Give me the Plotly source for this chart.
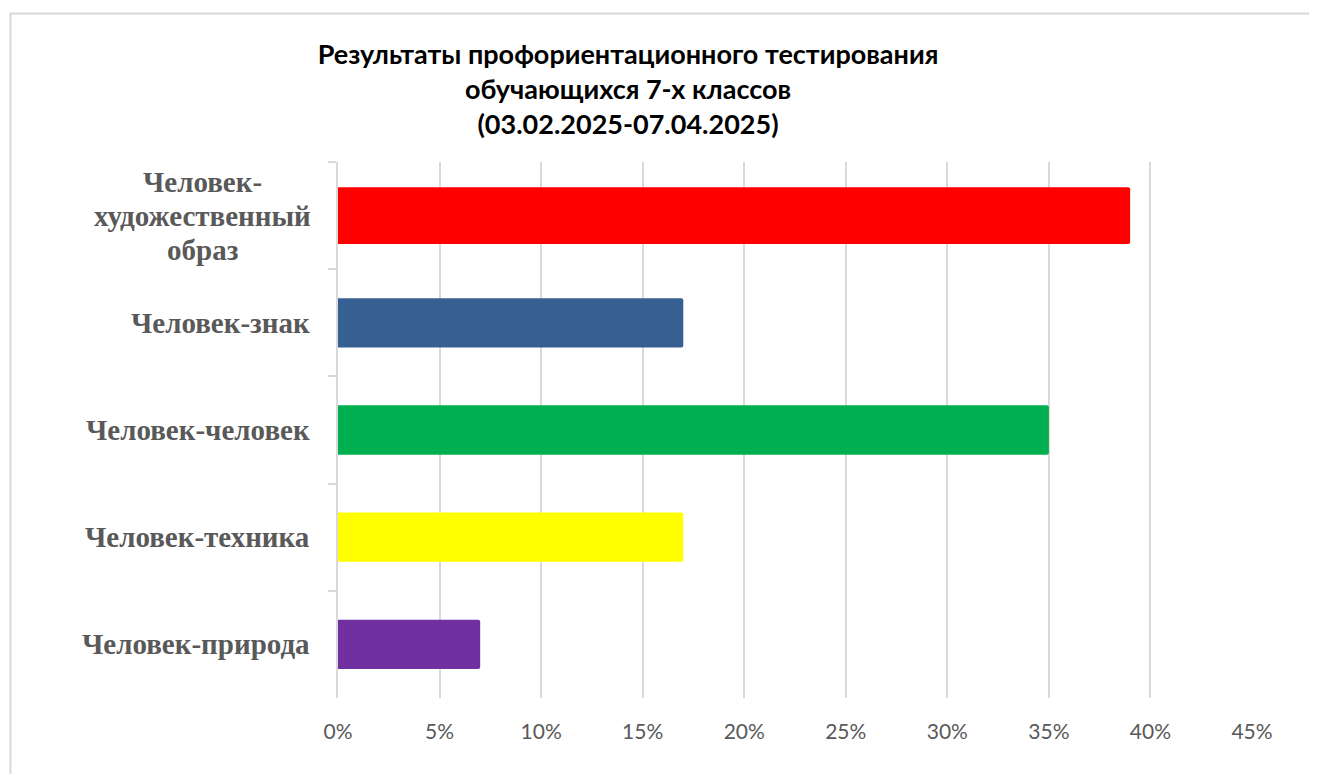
import plotly.graph_objects as go

categories = [
    "Человек-<br>художественный<br>образ",
    "Человек-знак",
    "Человек-человек",
    "Человек-техника",
    "Человек-природа",
]
values = [0.39, 0.17, 0.35, 0.17, 0.07]
colors = ["#FF0000", "#376092", "#00B050", "#FFFF00", "#7030A0"]
bar_widths = [0.53, 0.46, 0.46, 0.46, 0.46]
x_ticks = [0, 0.05, 0.10, 0.15, 0.20, 0.25, 0.30, 0.35, 0.40, 0.45]
x_ticktext = ["0%", "5%", "10%", "15%", "20%", "25%", "30%", "35%", "40%", "45%"]
title_text = ("Результаты профориентационного тестирования<br>"
              "обучающихся 7-х классов<br>(03.02.2025-07.04.2025)")

W, H = 1317, 774
OFF = 8  # page body margin
ML, MR, MT, MB = 338 - OFF, 1317 - (1252 - OFF), 162 - OFF, 774 - (698 - OFF)

fig = go.Figure()
fig.add_trace(go.Bar(
    y=categories, x=values, orientation="h",
    marker=dict(color=colors, line=dict(width=0), cornerradius=2),
    width=bar_widths, hoverinfo="x+y",
))

# category labels (multi-line ones centred line by line, Excel style)
LINE_H = 34
for c in categories:
    lines = c.split("<br>")
    n = len(lines)
    for i, ln in enumerate(lines):
        fig.add_annotation(
            x=0, xref="paper", y=c, yref="y", xanchor="center" if n > 1 else "right",
            yanchor="middle",
            xshift=(-26 - 110) if n > 1 else -26,
            yshift=((n - 1) / 2 - i) * LINE_H,
            text="<b>" + ln + "</b>", showarrow=False,
            font=dict(family="Liberation Serif", size=29, color="#595959"),
        )

pw = W - ML - MR
ph = H - MT - MB
fig.add_shape(
    type="rect", xref="paper", yref="paper",
    x0=(10.5 - OFF - ML) / pw, x1=(W + 20 - ML) / pw,
    y0=-(H + 20 - (H - MB)) / ph,
    y1=(H - MB - (13.5 - OFF)) / ph,
    line=dict(color="#D9D9D9", width=2), layer="below",
)

fig.update_layout(
    width=W, height=H,
    margin=dict(l=ML, r=MR, t=MT, b=MB),
    paper_bgcolor="white", plot_bgcolor="white",
    showlegend=False,
    title=dict(
        text="<b>" + title_text + "</b>",
        x=(628 - OFF) / W, xanchor="center", y=1 - 56 / H, yanchor="top",
        font=dict(family="Lato", size=27, color="#000000"),
    ),
    xaxis=dict(
        range=[0, 0.45], tickvals=x_ticks, ticktext=x_ticktext,
        showgrid=True, gridcolor="#D9D9D9", gridwidth=1.5,
        zeroline=False, showline=False, ticks="", ticklabelstandoff=19,
        tickfont=dict(family="Lato", size=21, color="#595959"),
        fixedrange=True,
    ),
    yaxis=dict(
        autorange="reversed", showticklabels=False,
        showline=True, linecolor="#D9D9D9", linewidth=1.5,
        ticks="outside", ticklen=8, tickcolor="#D9D9D9", tickwidth=1.5,
        tickson="boundaries", showgrid=False, fixedrange=True,
    ),
)

fig.write_html("out.html")
